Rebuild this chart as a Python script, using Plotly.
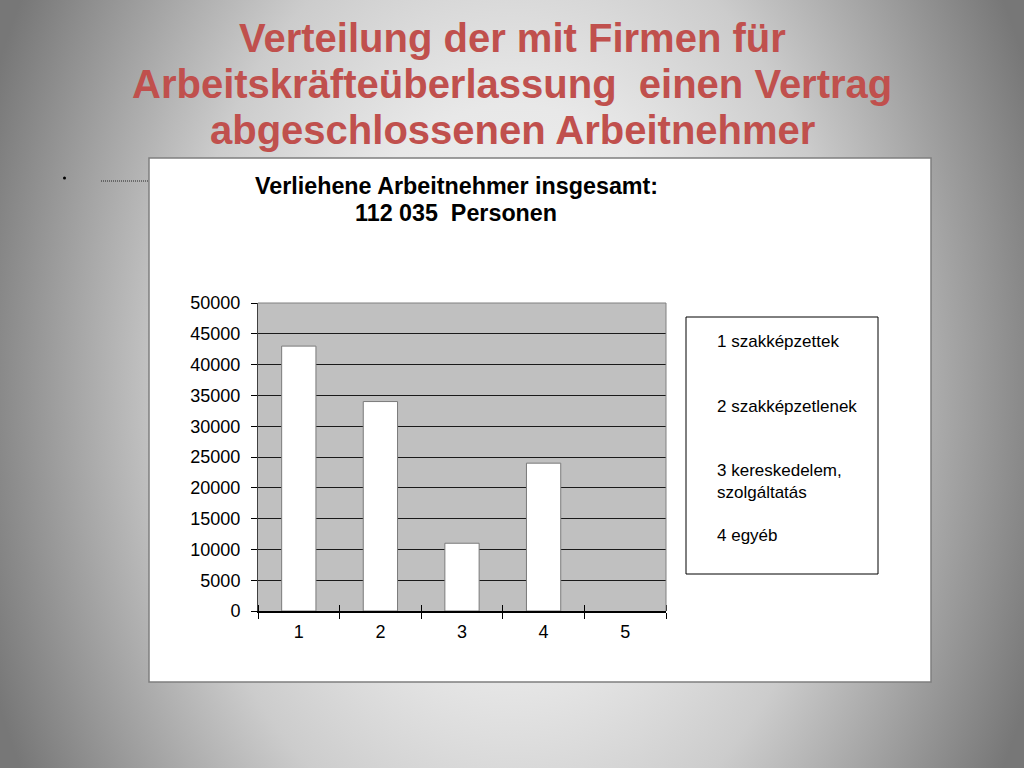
import base64
import plotly.graph_objects as go

# data
categories = ["1", "2", "3", "4", "5"]
workers = [43000, 34000, 11000, 24000, 0]
y_ticks = list(range(0, 50001, 5000))
legend_labels = ["1 szakképzettek", "2 szakképzetlenek",
                 "3 kereskedelem,<br>szolgáltatás", "4 egyéb"]
slide_title = ["Verteilung der mit Firmen für",
               "Arbeitskräfteüberlassung  einen Vertrag",
               "abgeschlossenen Arbeitnehmer"]
chart_title = ["Verliehene Arbeitnehmer insgesamt:", "112 035  Personen"]

W, H = 1024, 768
FONT = "Liberation Sans, Arial, sans-serif"


def px(x):
    return x / W


def py(y):
    return 1 - y / H


# plot area on the slide (pixels)
x_dom = [px(258), px(666)]
y_dom = [py(611), py(303)]

# radial grey slide background as an inline svg
svg = """<svg xmlns="http://www.w3.org/2000/svg" width="1024" height="768" viewBox="0 0 1024 768" preserveAspectRatio="none">
<defs><radialGradient id="g" gradientUnits="userSpaceOnUse" cx="512" cy="384" r="560"
 gradientTransform="translate(512 384) scale(1 1.43) translate(-512 -384)">
<stop offset="0" stop-color="#f4f4f4"/>
<stop offset="0.35" stop-color="#e8e8e8"/>
<stop offset="0.6" stop-color="#cccccc"/>
<stop offset="1" stop-color="#777777"/>
</radialGradient></defs>
<rect width="1024" height="768" fill="url(#g)"/></svg>"""
bg_src = "data:image/svg+xml;base64," + base64.b64encode(svg.encode()).decode()

fig = go.Figure()

fig.add_trace(go.Bar(
    x=categories, y=workers,
    marker=dict(color="white",
                line=dict(color="#7a7a7a", width=[1 if v > 0 else 0 for v in workers])),
    hoverinfo="x+y", showlegend=False,
))
# invisible copy so the second x axis can draw the upper half of the ticks
fig.add_trace(go.Scatter(
    x=categories, y=workers, xaxis="x2", mode="markers",
    marker=dict(opacity=0), hoverinfo="skip", showlegend=False,
))

shapes = [
    # white chart box
    dict(type="rect", xref="paper", yref="paper", layer="below",
         x0=px(149), x1=px(931), y0=py(682), y1=py(158),
         fillcolor="white", line=dict(color="#7f7f7f", width=1.5)),
    # grey plot area
    dict(type="rect", xref="paper", yref="paper", layer="below",
         x0=x_dom[0], x1=x_dom[1], y0=y_dom[0], y1=y_dom[1],
         fillcolor="#c0c0c0", line=dict(width=0)),
    # top / right border of plot area
    dict(type="line", xref="paper", yref="paper", layer="above",
         x0=x_dom[0], x1=x_dom[1], y0=y_dom[1], y1=y_dom[1],
         line=dict(color="#808080", width=1)),
    dict(type="line", xref="paper", yref="paper", layer="above",
         x0=x_dom[1], x1=x_dom[1], y0=y_dom[0], y1=y_dom[1],
         line=dict(color="#808080", width=1)),
    # legend box
    dict(type="rect", xref="paper", yref="paper", layer="below",
         x0=px(686), x1=px(878), y0=py(574), y1=py(317),
         fillcolor="white", line=dict(color="black", width=1)),
    # leftover bullet and dotted leader
    dict(type="circle", xref="paper", yref="paper", layer="below",
         x0=px(63), x1=px(66), y0=py(179.5), y1=py(176.5),
         fillcolor="black", line=dict(width=0)),
    dict(type="line", xref="paper", yref="paper", layer="below",
         x0=px(101), x1=px(149), y0=py(181), y1=py(181),
         line=dict(color="black", width=0.8, dash="1px,1px")),
]

annotations = []
for i, line in enumerate(slide_title):
    annotations.append(dict(
        text="<b>" + line + "</b>", xref="paper", yref="paper",
        x=0.5, y=py(38 + 46 * i), xanchor="center", yanchor="middle", showarrow=False,
        font=dict(family=FONT, size=40, color="#c0504d"),
    ))
for i, line in enumerate(chart_title):
    annotations.append(dict(
        text="<b>" + line + "</b>", xref="paper", yref="paper",
        x=px(456), y=py(186 + 27 * i), xanchor="center", yanchor="middle", showarrow=False,
        font=dict(family=FONT, size=23.3, color="black"),
    ))
for i, label in enumerate(legend_labels):
    annotations.append(dict(
        text=label, xref="paper", yref="paper", align="left",
        x=px(715), y=py(330 + 64.5 * i), xanchor="left", yanchor="top",
        showarrow=False, font=dict(family=FONT, size=17, color="black"),
    ))

fig.update_layout(
    width=W, height=H, autosize=False,
    margin=dict(l=0, r=0, t=0, b=0, pad=0, autoexpand=False),
    paper_bgcolor="#bdbdbd",
    plot_bgcolor="rgba(0,0,0,0)",
    bargap=0.58,
    font=dict(family=FONT, size=18, color="black"),
    images=[dict(source=bg_src, xref="paper", yref="paper", x=0, y=1,
                 sizex=1, sizey=1, xanchor="left", yanchor="top",
                 sizing="stretch", layer="below")],
    shapes=shapes,
    annotations=annotations,
    xaxis=dict(domain=x_dom, type="category", range=[-0.5, 4.5],
               tickson="boundaries", ticks="outside", ticklen=6, tickcolor="black",
               showline=True, linecolor="black", linewidth=1.5, automargin=False,
               showgrid=False, tickfont=dict(size=18), ticklabelstandoff=4),
    # same category axis drawn at the bottom edge but facing up
    xaxis2=dict(domain=x_dom, type="category", range=[-0.5, 4.5],
                overlaying="x", anchor="free", position=y_dom[0], side="top",
                automargin=False, tickson="boundaries", ticks="outside",
                ticklen=6, tickcolor="black",
                showticklabels=False, showgrid=False, showline=False),
    yaxis=dict(domain=y_dom, range=[0, 50000], tickvals=y_ticks, tickformat="d",
               ticks="outside", ticklen=6, tickcolor="black", automargin=False,
               showline=True, linecolor="#404040", linewidth=1,
               showgrid=True, gridcolor="#1a1a1a", gridwidth=1,
               zeroline=False, tickfont=dict(size=18), ticklabelstandoff=7),
)

fig.write_html("out.html", config={"displayModeBar": False, "responsive": False},
               post_script="document.body.style.margin='0';")
